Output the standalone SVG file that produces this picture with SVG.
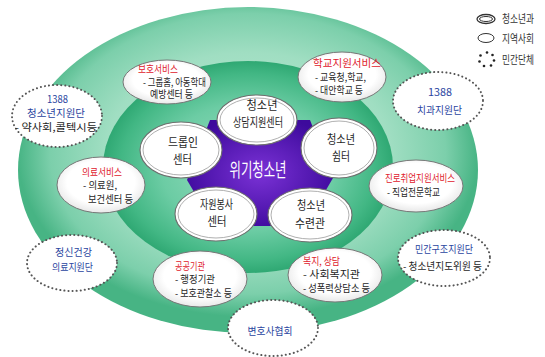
<svg xmlns="http://www.w3.org/2000/svg" width="545" height="357" viewBox="0 0 545 357">
<defs>
<radialGradient id="gOuter" cx="0.5" cy="0.45" r="0.5">
<stop offset="0" stop-color="#bfead6"/>
<stop offset="0.62" stop-color="#a0dec2"/>
<stop offset="0.86" stop-color="#7ccfab"/>
<stop offset="1" stop-color="#47b484"/>
</radialGradient>
<radialGradient id="gMid" cx="0.5" cy="0.5" r="0.5">
<stop offset="0" stop-color="#9ee0c3"/>
<stop offset="0.6" stop-color="#6ccca4"/>
<stop offset="0.88" stop-color="#42b784"/>
<stop offset="1" stop-color="#2fa873"/>
</radialGradient>
<radialGradient id="gPurple" cx="0.5" cy="0.5" r="0.55">
<stop offset="0" stop-color="#7b32d6"/>
<stop offset="1" stop-color="#3d0a9c"/>
</radialGradient>
<radialGradient id="gWhite" cx="0.5" cy="0.45" r="0.55">
<stop offset="0.7" stop-color="#ffffff"/>
<stop offset="1" stop-color="#e8e8e8"/>
</radialGradient>
<style>
text{font-family:"Noto Sans CJK KR","Noto Sans",sans-serif;font-size:10px;fill:#1e1e1e}
.c{font-size:12px}
.m{text-anchor:middle}
.r{fill:#e0202c}
.b{fill:#2a45a0}
.w{fill:#ffffff;font-size:19px}
.lg{font-size:11px;fill:#333}
.core{fill:#ffffff;stroke:#6e6e6e;stroke-width:1.1}
.coreIn{fill:none;stroke:#9a9a9a;stroke-width:0.8}
.comm{fill:url(#gWhite);stroke:#777;stroke-width:1}
.dot{fill:#ffffff;stroke:#555;stroke-width:2;stroke-dasharray:0.1 4;stroke-linecap:round}
</style>
</defs>

<g id="background">
<ellipse cx="248" cy="170" rx="230" ry="163" fill="url(#gOuter)"/>
<ellipse cx="248" cy="167" rx="145" ry="106" fill="url(#gMid)"/>
</g>

<g id="crisis-youth">
<polygon points="210,120 310,120 333,178 305,226 214,226 187,180" fill="url(#gPurple)"/>
<text class="w m" x="258" y="177" textLength="57" lengthAdjust="spacingAndGlyphs">위기청소년</text>
</g>

<g id="connectors"/>

<g id="node-counseling">
<ellipse class="core" cx="257" cy="120" rx="40" ry="25"/>
<ellipse class="coreIn" cx="257" cy="120" rx="37" ry="22"/>
<text class="c m" x="262" y="110" textLength="31" lengthAdjust="spacingAndGlyphs">청소년</text>
<text class="c m" x="258" y="127" textLength="50" lengthAdjust="spacingAndGlyphs">상담지원센터</text>
</g>

<g id="node-dropin">
<ellipse class="core" cx="181" cy="150" rx="41" ry="28"/>
<ellipse class="coreIn" cx="181" cy="150" rx="38" ry="25"/>
<text class="c m" x="183" y="147" textLength="30" lengthAdjust="spacingAndGlyphs">드롭인</text>
<text class="c m" x="182.5" y="164" textLength="19" lengthAdjust="spacingAndGlyphs">센터</text>
</g>

<g id="node-shelter">
<ellipse class="core" cx="339" cy="148" rx="38" ry="30"/>
<ellipse class="coreIn" cx="339" cy="148" rx="35" ry="27"/>
<text class="c m" x="341" y="144" textLength="28" lengthAdjust="spacingAndGlyphs">청소년</text>
<text class="c m" x="341" y="161" textLength="18" lengthAdjust="spacingAndGlyphs">쉼터</text>
</g>

<g id="node-volunteer">
<ellipse class="core" cx="216" cy="214" rx="41" ry="27"/>
<ellipse class="coreIn" cx="216" cy="214" rx="38" ry="24"/>
<text class="c m" x="216.5" y="209" textLength="33" lengthAdjust="spacingAndGlyphs">자원봉사</text>
<text class="c m" x="217" y="226" textLength="19" lengthAdjust="spacingAndGlyphs">센터</text>
</g>

<g id="node-training">
<ellipse class="core" cx="310" cy="215" rx="42" ry="27"/>
<ellipse class="coreIn" cx="310" cy="215" rx="39" ry="24"/>
<text class="c m" x="311" y="210" textLength="28" lengthAdjust="spacingAndGlyphs">청소년</text>
<text class="c m" x="310" y="228" textLength="30" lengthAdjust="spacingAndGlyphs">수련관</text>
</g>

<g id="node-protection">
<ellipse class="comm" cx="167" cy="82" rx="44" ry="22"/>
<text class="r" x="138" y="73" textLength="40" lengthAdjust="spacingAndGlyphs">보호서비스</text>
<text x="143" y="86" textLength="63" lengthAdjust="spacingAndGlyphs">- 그룹홈, 아동학대</text>
<text x="150" y="98" textLength="43" lengthAdjust="spacingAndGlyphs">예방센터 등</text>
</g>

<g id="node-school">
<ellipse class="comm" cx="342" cy="77" rx="44" ry="25"/>
<text class="r" x="313" y="67" textLength="68" lengthAdjust="spacingAndGlyphs">학교지원서비스</text>
<text x="315" y="81" textLength="51" lengthAdjust="spacingAndGlyphs">- 교육청,학교,</text>
<text x="315" y="94" textLength="48" lengthAdjust="spacingAndGlyphs">- 대안학교 등</text>
</g>

<g id="node-medical">
<ellipse class="comm" cx="101" cy="185" rx="44" ry="28"/>
<text class="r" x="82" y="176" textLength="40" lengthAdjust="spacingAndGlyphs">의료서비스</text>
<text x="83" y="189" textLength="34" lengthAdjust="spacingAndGlyphs">- 의료원,</text>
<text x="88" y="203" textLength="45" lengthAdjust="spacingAndGlyphs">보건센터 등</text>
</g>

<g id="node-career">
<ellipse class="comm" cx="416" cy="186" rx="47" ry="26"/>
<text class="r" x="385" y="182" textLength="70" lengthAdjust="spacingAndGlyphs">진로취업지원서비스</text>
<text x="387" y="196" textLength="53" lengthAdjust="spacingAndGlyphs">- 직업전문학교</text>
</g>

<g id="node-public">
<ellipse class="comm" cx="200" cy="279" rx="47" ry="28"/>
<text class="r" x="175" y="270" textLength="30" lengthAdjust="spacingAndGlyphs">공공기관</text>
<text x="175" y="283" textLength="40" lengthAdjust="spacingAndGlyphs">- 행정기관</text>
<text x="175" y="297" textLength="57" lengthAdjust="spacingAndGlyphs">- 보호관찰소 등</text>
</g>

<g id="node-welfare">
<ellipse class="comm" cx="335" cy="275" rx="47" ry="27"/>
<text class="r" x="303" y="265" textLength="37" lengthAdjust="spacingAndGlyphs">복지, 상담</text>
<text x="303" y="278" textLength="57" lengthAdjust="spacingAndGlyphs">- 사회복지관</text>
<text x="303" y="292" textLength="67" lengthAdjust="spacingAndGlyphs">- 성폭력상담소 등</text>
</g>

<g id="node-1388-youth">
<ellipse class="dot" cx="57" cy="116" rx="45" ry="31"/>
<text class="b m" x="57.5" y="103" textLength="21" lengthAdjust="spacingAndGlyphs">1388</text>
<text class="b m" x="56" y="117" textLength="58" lengthAdjust="spacingAndGlyphs">청소년지원단</text>
<text x="15" y="131" textLength="82" lengthAdjust="spacingAndGlyphs">- 약사회,콜텍시등</text>
</g>

<g id="node-1388-dental">
<ellipse class="dot" cx="438" cy="101" rx="45" ry="29"/>
<text class="b m" x="440" y="96" textLength="24" lengthAdjust="spacingAndGlyphs">1388</text>
<text class="b m" x="439.5" y="114" textLength="45" lengthAdjust="spacingAndGlyphs">치과지원단</text>
</g>

<g id="node-mental">
<ellipse class="dot" cx="72" cy="263" rx="45" ry="28"/>
<text class="b m" x="73.5" y="256" textLength="37" lengthAdjust="spacingAndGlyphs">정신건강</text>
<text class="b m" x="72.5" y="271" textLength="41" lengthAdjust="spacingAndGlyphs">의료지원단</text>
</g>

<g id="node-rescue">
<ellipse class="dot" cx="444" cy="258" rx="46" ry="28"/>
<text class="b m" x="444" y="253" textLength="58" lengthAdjust="spacingAndGlyphs">민간구조지원단</text>
<text x="403" y="270" textLength="79" lengthAdjust="spacingAndGlyphs">- 청소년지도위원 등</text>
</g>

<g id="node-lawyers">
<ellipse class="dot" cx="273" cy="328" rx="45" ry="28"/>
<text class="b m" x="270" y="335" textLength="45" lengthAdjust="spacingAndGlyphs">변호사협회</text>
</g>

<g id="legend">
<ellipse cx="486" cy="19" rx="9" ry="4.5" fill="#fff" stroke="#333" stroke-width="1.3"/>
<ellipse cx="486" cy="19" rx="6.5" ry="2.5" fill="none" stroke="#333" stroke-width="1"/>
<text class="lg" x="502" y="23" textLength="32" lengthAdjust="spacingAndGlyphs">청소년과</text>
<ellipse cx="486" cy="38" rx="8" ry="4.5" fill="#fff" stroke="#333" stroke-width="1"/>
<text class="lg" x="502" y="43" textLength="32" lengthAdjust="spacingAndGlyphs">지역사회</text>
<g fill="#222">
<circle cx="487" cy="52.5" r="1.3"/>
<circle cx="492.5" cy="55" r="1.3"/>
<circle cx="494" cy="60.5" r="1.3"/>
<circle cx="491" cy="65.5" r="1.3"/>
<circle cx="484" cy="66" r="1.3"/>
<circle cx="479.5" cy="61.5" r="1.3"/>
<circle cx="480.5" cy="55.5" r="1.3"/>
</g>
<text class="lg" x="502" y="64" textLength="32" lengthAdjust="spacingAndGlyphs">민간단체</text>
</g>
</svg>
